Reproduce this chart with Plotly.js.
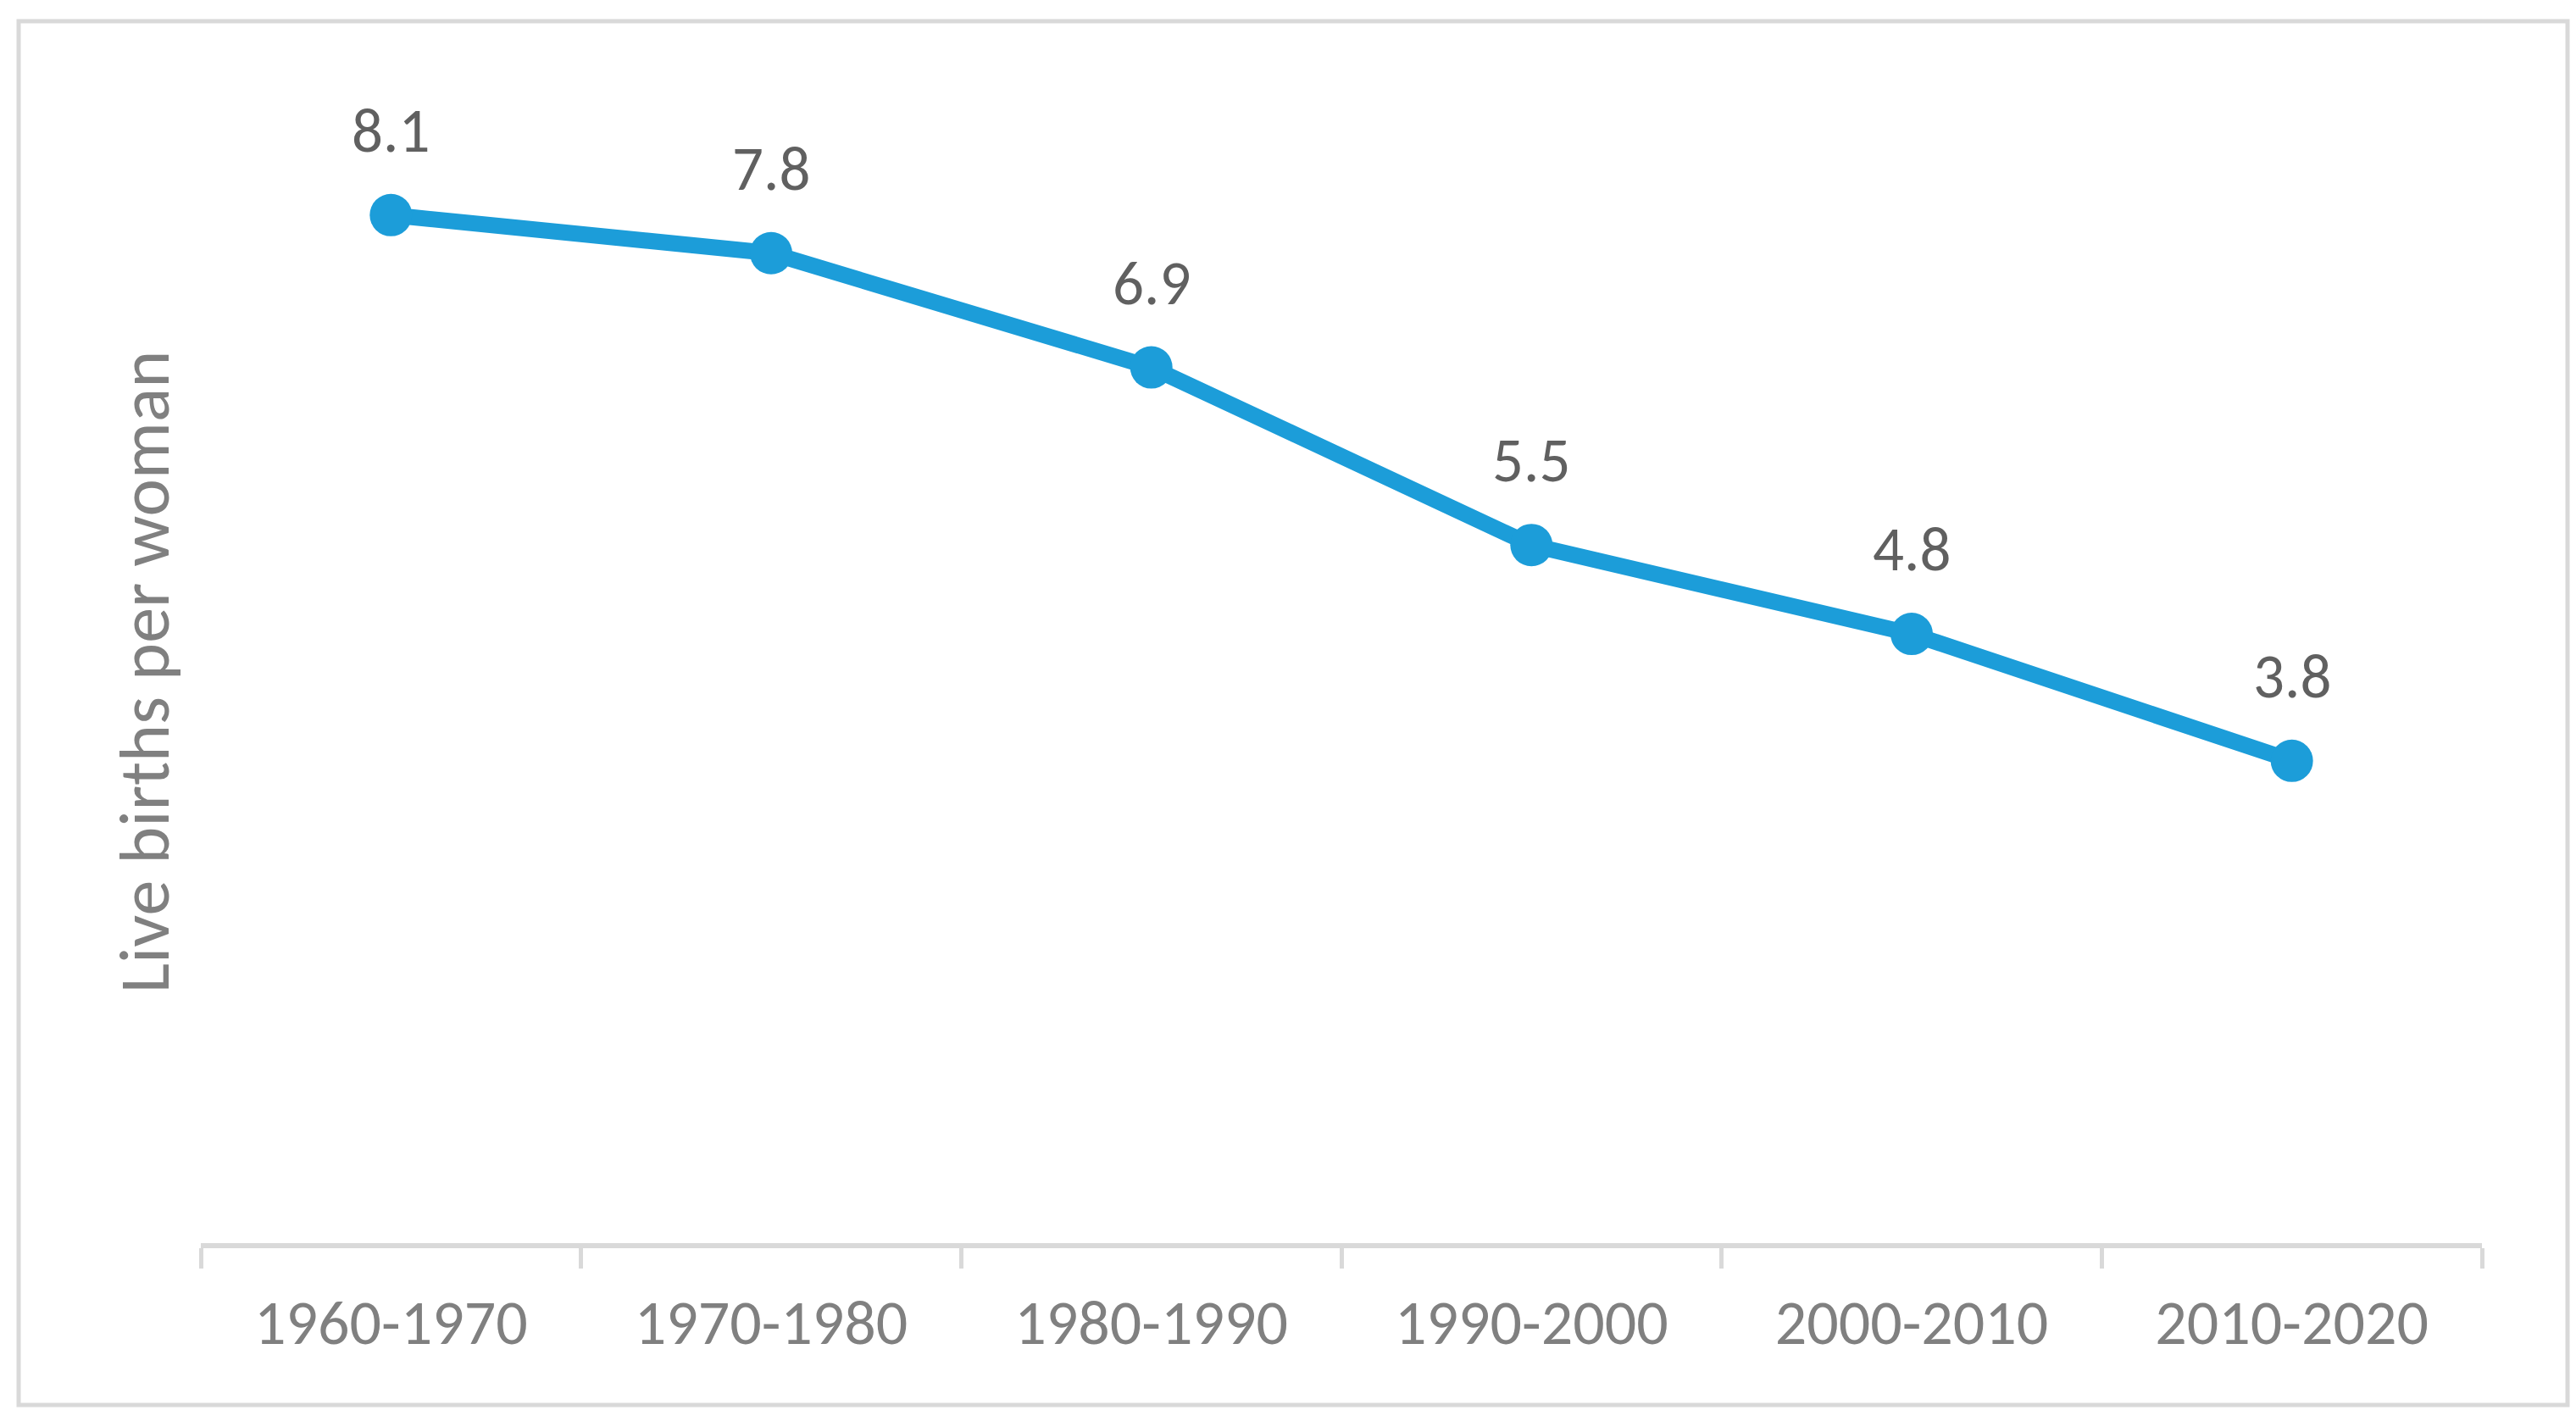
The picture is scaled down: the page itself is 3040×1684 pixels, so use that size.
<!DOCTYPE html>
<html>
<head>
<meta charset="utf-8">
<script src="https://cdn.plot.ly/plotly-3.0.1.min.js"></script>
<style>
html,body{margin:0;padding:0;background:#fff;}
#chart{width:3040px;height:1684px;}
</style>
</head>
<body>
<div id="chart"></div>
<script>
var categories = ["1960-1970", "1970-1980", "1980-1990", "1990-2000", "2000-2010", "2010-2020"];
var births = [8.1, 7.8, 6.9, 5.5, 4.8, 3.8];
var labels = ["8.1", "7.8", "6.9", "5.5", "4.8", "3.8"];
var yTitle = "Live births per woman";

var FONT = "Carlito, Lato, 'Open Sans', sans-serif";
var W = 3040, H = 1684;
var L = 237, R = 111, T = 119, B = 217;
var pw = W - L - R, ph = H - T - B;
function px(x){ return (x - L) / pw; }
function py(y){ return (H - B - y) / ph; }

var trace = {
  x: categories,
  y: births,
  type: "scatter",
  mode: "lines+markers",
  line: {color: "#1c9dd9", width: 19},
  marker: {color: "#1c9dd9", size: 50},
  hoverinfo: "none",
  cliponaxis: false
};

var annotations = categories.map(function(c, i){
  return {
    x: c, y: births[i], xref: "x", yref: "y",
    text: labels[i], showarrow: false,
    yanchor: "middle", yshift: 100,
    font: {family: FONT, size: 73, color: "#606060"}
  };
});

var layout = {
  width: W, height: H,
  margin: {l: L, r: R, t: T, b: B, pad: 0},
  paper_bgcolor: "#ffffff",
  plot_bgcolor: "#ffffff",
  showlegend: false,
  xaxis: {
    type: "category",
    range: [-0.5, 5.5],
    showline: true, linecolor: "#d9d9d9", linewidth: 6,
    ticks: "outside", tickson: "boundaries", ticklen: 24, tickwidth: 5, tickcolor: "#d9d9d9",
    showgrid: false, zeroline: false,
    tickfont: {family: FONT, size: 74, color: "#808080"},
    ticklabelstandoff: 24,
    automargin: false
  },
  yaxis: {
    range: [0, 9],
    showline: false, showgrid: false, zeroline: false,
    showticklabels: false, ticks: "",
    title: {text: yTitle, standoff: 8, font: {family: FONT, size: 84, color: "#808080"}},
    automargin: false
  },
  annotations: annotations,
  shapes: [{
    type: "rect", xref: "paper", yref: "paper",
    x0: px(22), x1: px(3030), y0: py(1658), y1: py(25),
    line: {color: "#d9d9d9", width: 5},
    fillcolor: "rgba(0,0,0,0)",
    layer: "below"
  }]
};

Plotly.newPlot("chart", [trace], layout, {displayModeBar: false, staticPlot: true});
</script>
</body>
</html>
